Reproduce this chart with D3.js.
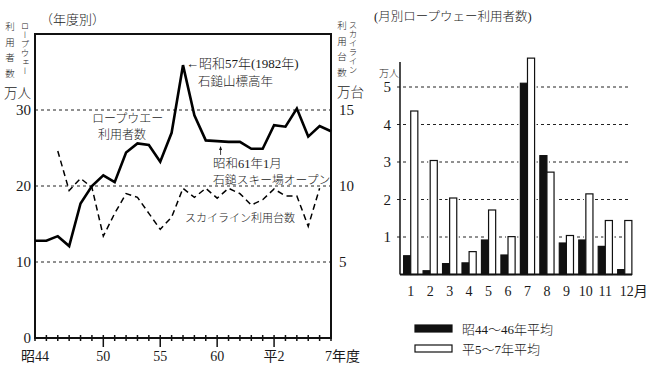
<!DOCTYPE html>
<html><head><meta charset="utf-8">
<script src="https://cdn.jsdelivr.net/npm/d3@7"></script>
<style>
body{margin:0;background:#fff}
svg{display:block}
text{font-family:"Liberation Serif","DejaVu Serif","Noto Sans CJK JP",serif;fill:#1a1a1a}
.jp{font-weight:300}
.vt{font-family:"Noto Sans CJK JP",sans-serif;font-weight:300}
</style></head><body>
<div id="chart"></div>
<script>
const width = 659, height = 367

// yearly (昭44 = 1969 ... 平7 = 1995)
const years = d3.range(1969, 1996)
const ropeway = [12.8,12.8,13.4,12.1,17.7,20.0,21.4,20.5,24.4,25.6,25.4,23.2,27.0,35.9,29.3,26.0,25.9,25.8,25.8,24.9,24.9,28.0,27.8,30.2,26.5,27.9,27.2]
const skylineYears = d3.range(1971, 1995)
const skyline = [12.3,9.7,10.5,9.9,6.7,8.2,9.5,9.25,8.2,7.15,7.95,9.85,9.25,9.85,9.2,9.85,9.5,8.75,9.1,9.8,9.35,9.35,7.35,9.85]
const yearTicks = [1969,1975,1980,1985,1990,1995]
const yearTickLabels = ["昭44","50","55","60","平2","7年度"]
const leftTicks = [0,10,20,30]
const rightTicks = [5,10,15]

// monthly
const months = d3.range(1, 13)
const monthLabels = ["1","2","3","4","5","6","7","8","9","10","11","12月"]
const early = [0.5,0.1,0.29,0.31,0.92,0.52,5.1,3.17,0.84,0.92,0.75,0.13]
const recent = [4.36,3.04,2.04,0.61,1.72,1.01,5.77,2.73,1.04,2.15,1.44,1.44]
const series = ["昭44～46年平均","平5～7年平均"]
const monthTicks = [1,2,3,4,5]

const svg = d3.select("#chart").append("svg")
  .attr("width", width).attr("height", height)

// ---------- left chart ----------
const x = d3.scaleLinear().domain([1969, 1995]).range([35, 331])
const y = d3.scaleLinear().domain([0, 40]).range([338, 34])
const y2 = d3.scaleLinear().domain([0, 20]).range([338, 34])

const left = svg.append("g")

left.selectAll("line.grid")
  .data(leftTicks.filter(d => d > 0))
  .join("line")
  .attr("x1", x(1969)).attr("x2", x(1995))
  .attr("y1", d => y(d)).attr("y2", d => y(d))
  .attr("stroke", "#222").attr("stroke-width", 1).attr("stroke-dasharray", "3,3")

// frame
left.append("rect")
  .attr("x", x(1969)).attr("y", y(40))
  .attr("width", x(1995) - x(1969)).attr("height", y(0) - y(40))
  .attr("fill", "none").attr("stroke", "#111").attr("stroke-width", 2)

// year ticks
left.selectAll("line.minor")
  .data(years)
  .join("line")
  .attr("x1", d => x(d)).attr("x2", d => x(d))
  .attr("y1", y(0) - 3)
  .attr("y2", d => yearTicks.slice(1, -1).includes(d) ? y(0) + 9 : y(0) + 3)
  .attr("stroke", "#111").attr("stroke-width", 1.5)

left.selectAll("text.xl")
  .data(yearTicks)
  .join("text")
  .attr("x", (d, i) => i === yearTickLabels.length - 1 ? x(d) - 6 : x(d))
  .attr("y", 361)
  .attr("text-anchor", (d, i) => i === yearTickLabels.length - 1 ? "start" : "middle")
  .attr("font-size", 14)
  .text((d, i) => yearTickLabels[i])

left.selectAll("text.yl")
  .data(leftTicks)
  .join("text")
  .attr("x", 31).attr("y", d => y(d) + 5)
  .attr("text-anchor", "end").attr("font-size", 15)
  .text(d => d)

left.selectAll("text.yr")
  .data(rightTicks)
  .join("text")
  .attr("x", 339).attr("y", d => y2(d) + 5)
  .attr("font-size", 15)
  .text(d => d)

// lines
left.append("path")
  .datum(ropeway)
  .attr("fill", "none").attr("stroke", "#000").attr("stroke-width", 2.6)
  .attr("stroke-linejoin", "miter")
  .attr("d", d3.line().x((d, i) => x(years[i])).y(d => y(d)))

left.append("path")
  .datum(skyline)
  .attr("fill", "none").attr("stroke", "#000").attr("stroke-width", 1.5)
  .attr("stroke-dasharray", "6,4")
  .attr("d", d3.line().x((d, i) => x(skylineYears[i])).y(d => y2(d)))

// titles / annotations
const txt = (g, tx, ty, s, size, cls = "jp") =>
  g.append("text").attr("class", cls).attr("x", tx).attr("y", ty)
    .attr("font-size", size).text(s)

txt(svg, 40, 24, "（年度別）", 13)
txt(svg, 4, 98, "万人", 13.5)
txt(svg, 337, 97, "万台", 13.5)
txt(svg, 186, 68, "←昭和57年(1982年)", 13)
txt(svg, 198, 86, "石鎚山標高年", 12.5)
txt(svg, 92, 123, "ロープウエー", 12)
txt(svg, 98, 139, "利用者数", 12)
txt(svg, 213, 168, "昭和61年1月", 12.5)
txt(svg, 213, 184, "石鎚スキー場オープン", 11.8)
txt(svg, 185, 222, "スカイライン利用台数", 11)

// small arrow up to 1985
svg.append("line")
  .attr("x1", x(1985.3)).attr("x2", x(1985.3))
  .attr("y1", y(25.8) + 13).attr("y2", y(25.8) + 5)
  .attr("stroke", "#111").attr("stroke-width", 0.8)
svg.append("path")
  .attr("d", d3.line()([[x(1985.3) - 1.5, y(25.8) + 8], [x(1985.3), y(25.8) + 4], [x(1985.3) + 1.5, y(25.8) + 8]]))
  .attr("fill", "#111")

// vertical axis titles
const vtext = (tx, ty, s, size, gap) =>
  svg.append("text").attr("class", "vt")
    .attr("x", tx).attr("y", ty)
    .attr("font-size", size)
    .style("writing-mode", "vertical-rl")
    .style("letter-spacing", gap + "px")
    .text(s)

vtext(10, 22, "利用者数", 9.5, 6)
vtext(25, 22, "ロープウェー", 8.5, 0.5)
vtext(342, 21, "利用台数", 9.5, 6)
vtext(353, 21, "スカイライン", 8.5, 0.5)

// ---------- right chart ----------
const xm = d3.scaleBand().domain(months).range([401, 634.5]).paddingInner(0.27).paddingOuter(0.135)
const xs = d3.scaleBand().domain(series).range([0, xm.bandwidth()])
const ym = d3.scaleLinear().domain([0, 6]).range([274.5, 49.5])

const right = svg.append("g")

right.selectAll("line.grid")
  .data(monthTicks)
  .join("line")
  .attr("x1", 397).attr("x2", 631)
  .attr("y1", d => ym(d)).attr("y2", d => ym(d))
  .attr("stroke", "#222").attr("stroke-width", 1).attr("stroke-dasharray", "3,3")

right.selectAll("text.yl")
  .data(monthTicks)
  .join("text")
  .attr("x", 391).attr("y", d => ym(d) + 5)
  .attr("text-anchor", "end").attr("font-size", 15)
  .text(d => d)

txt(svg, 379, 77, "万人", 10)
txt(svg, 374, 21, "(月別ロープウェー利用者数)", 12.5).attr("font-weight", 400)

const barData = months.flatMap((m, i) => [
  {m, s: series[0], v: early[i]},
  {m, s: series[1], v: recent[i]}
])

// white halos interrupt gridlines
right.selectAll("rect.halo")
  .data(barData)
  .join("rect")
  .attr("x", d => xm(d.m) + xs(d.s) - 2)
  .attr("width", xs.bandwidth() + 4)
  .attr("y", d => ym(d.v) - 1)
  .attr("height", d => ym(0) - ym(d.v) + 1)
  .attr("fill", "#fff")

right.selectAll("rect.bar")
  .data(barData)
  .join("rect")
  .attr("x", d => xm(d.m) + xs(d.s))
  .attr("width", xs.bandwidth())
  .attr("y", d => ym(d.v))
  .attr("height", d => ym(0) - ym(d.v))
  .attr("fill", d => d.s === series[0] ? "#111" : "#fff")
  .attr("stroke", "#111").attr("stroke-width", 1.2)

right.append("line")
  .attr("x1", 400).attr("x2", 400)
  .attr("y1", ym(0)).attr("y2", ym(5.67))
  .attr("stroke", "#111").attr("stroke-width", 1.5)
right.append("line")
  .attr("x1", 400).attr("x2", 632)
  .attr("y1", ym(0)).attr("y2", ym(0))
  .attr("stroke", "#111").attr("stroke-width", 1.8)

right.selectAll("text.xl")
  .data(months)
  .join("text")
  .attr("x", (d, i) => i === 11 ? xm(d) + xm.bandwidth() / 2 - 5 : xm(d) + xm.bandwidth() / 2)
  .attr("y", 296)
  .attr("text-anchor", (d, i) => i === 11 ? "start" : "middle")
  .attr("font-size", 14)
  .text((d, i) => monthLabels[i])

// legend
const legend = right.selectAll("g.leg")
  .data(series)
  .join("g")
  .attr("transform", (d, i) => `translate(415,${325 + i * 20})`)
legend.append("rect")
  .attr("width", 37).attr("height", 7)
  .attr("fill", (d, i) => i === 0 ? "#111" : "#fff")
  .attr("stroke", "#111").attr("stroke-width", 1.2)
legend.append("text")
  .attr("class", "jp")
  .attr("x", 47).attr("y", 9)
  .attr("font-size", 13)
  .text(d => d)
</script>
</body></html>
